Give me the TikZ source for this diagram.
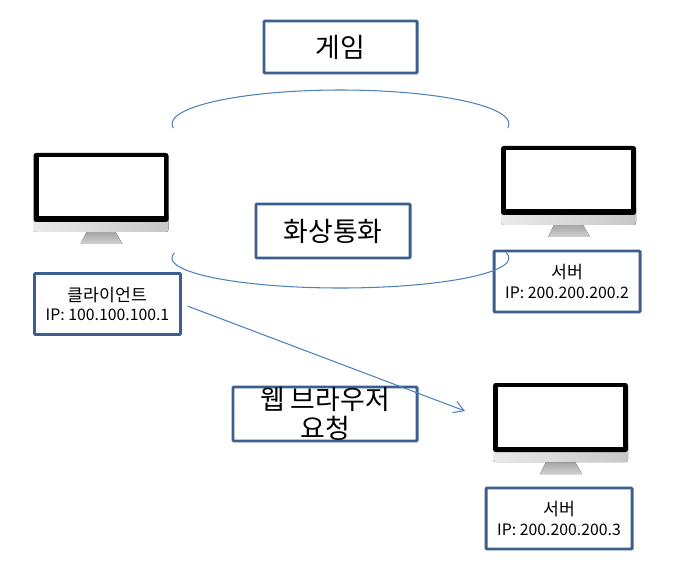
\documentclass[tikz,border=0pt]{standalone}
\usepackage{fontspec}
\setmainfont{Noto Sans CJK KR}
\usetikzlibrary{positioning,arrows.meta,calc}
\definecolor{boxblue}{HTML}{3B5F8F}
\definecolor{wireblue}{HTML}{4F81BD}
\newcommand{\ipfont}{\fontsize{9}{11}\selectfont}
\tikzset{
  titlebox/.style={draw=boxblue,line width=1.7pt,rounded corners=0.5pt,align=center,
    font=\fontsize{15.3}{16.4}\selectfont,inner sep=0pt},
  lblbox/.style={draw=boxblue,line width=1.7pt,rounded corners=0.5pt,align=center,
    font=\fontsize{9.8}{11}\selectfont,minimum width=2.92cm,minimum height=1.22cm,inner sep=0pt},
  wire/.style={draw=wireblue,line width=0.6pt},
  % ---- desktop monitor, origin at top left of the frame ----
  monitor/.pic={
    \fill[top color=black!35,bottom color=black!18] (1.06,-1.58) -- (1.64,-1.58) -- (1.78,-1.82) -- (0.94,-1.82) -- cycle;
    \fill[left color=black!8,right color=black!22,rounded corners=1.5pt] (0,-1.2) rectangle (2.7,-1.58);
    \fill[black,rounded corners=1.5pt] (0,0) rectangle (2.7,-1.38);
    \fill[white] (0.1,-0.08) rectangle (2.6,-1.27);
  },
}
\begin{document}
\begin{tikzpicture}[scale=1.0]
  \useasboundingbox (0,0) rectangle (13.98,11.66);
  % monitors
  \pic at (0.67,8.6) {monitor};
  \pic at (10.02,8.74) {monitor};
  \pic at (9.86,4.0) {monitor};
  % title boxes
  \node[titlebox,minimum width=3.06cm,minimum height=1.04cm] (game) at (6.81,10.72) {게임};
  \node[titlebox,minimum width=3.08cm,minimum height=1.08cm] (call) at (6.66,7.04) {\raisebox{1pt}{화상통화}};
  \node[titlebox,minimum width=3.68cm,minimum height=1.08cm] (web) at (6.5,3.38) {웹 브라우저\\요청};
  % address boxes
  \node[lblbox] (client) at (2.15,5.58) {클라이언트\\{\ipfont IP: 100.100.100.1}};
  \node[lblbox] (srvA) at (11.34,6.03) {서버\\{\ipfont IP: 200.200.200.2}};
  \node[lblbox] (srvB) at (11.18,1.29) {서버\\{\ipfont IP: 200.200.200.3}};
  % links
  \coordinate (arcA) at (3.465,9.097);
  \coordinate (arcB) at (3.49,6.604);
  \coordinate (webEnd) at (9.3,3.44);
  \draw[wire] (arcA) arc[start angle=187,end angle=-7,x radius=3.37,y radius=0.68];
  \draw[wire] (arcB) arc[start angle=170,end angle=370,x radius=3.37,y radius=0.6];
  \draw[wire,-{Straight Barb[length=2mm,width=2.4mm]},shorten <=0.12cm] (client.east) -- (webEnd);
\end{tikzpicture}
\end{document}
